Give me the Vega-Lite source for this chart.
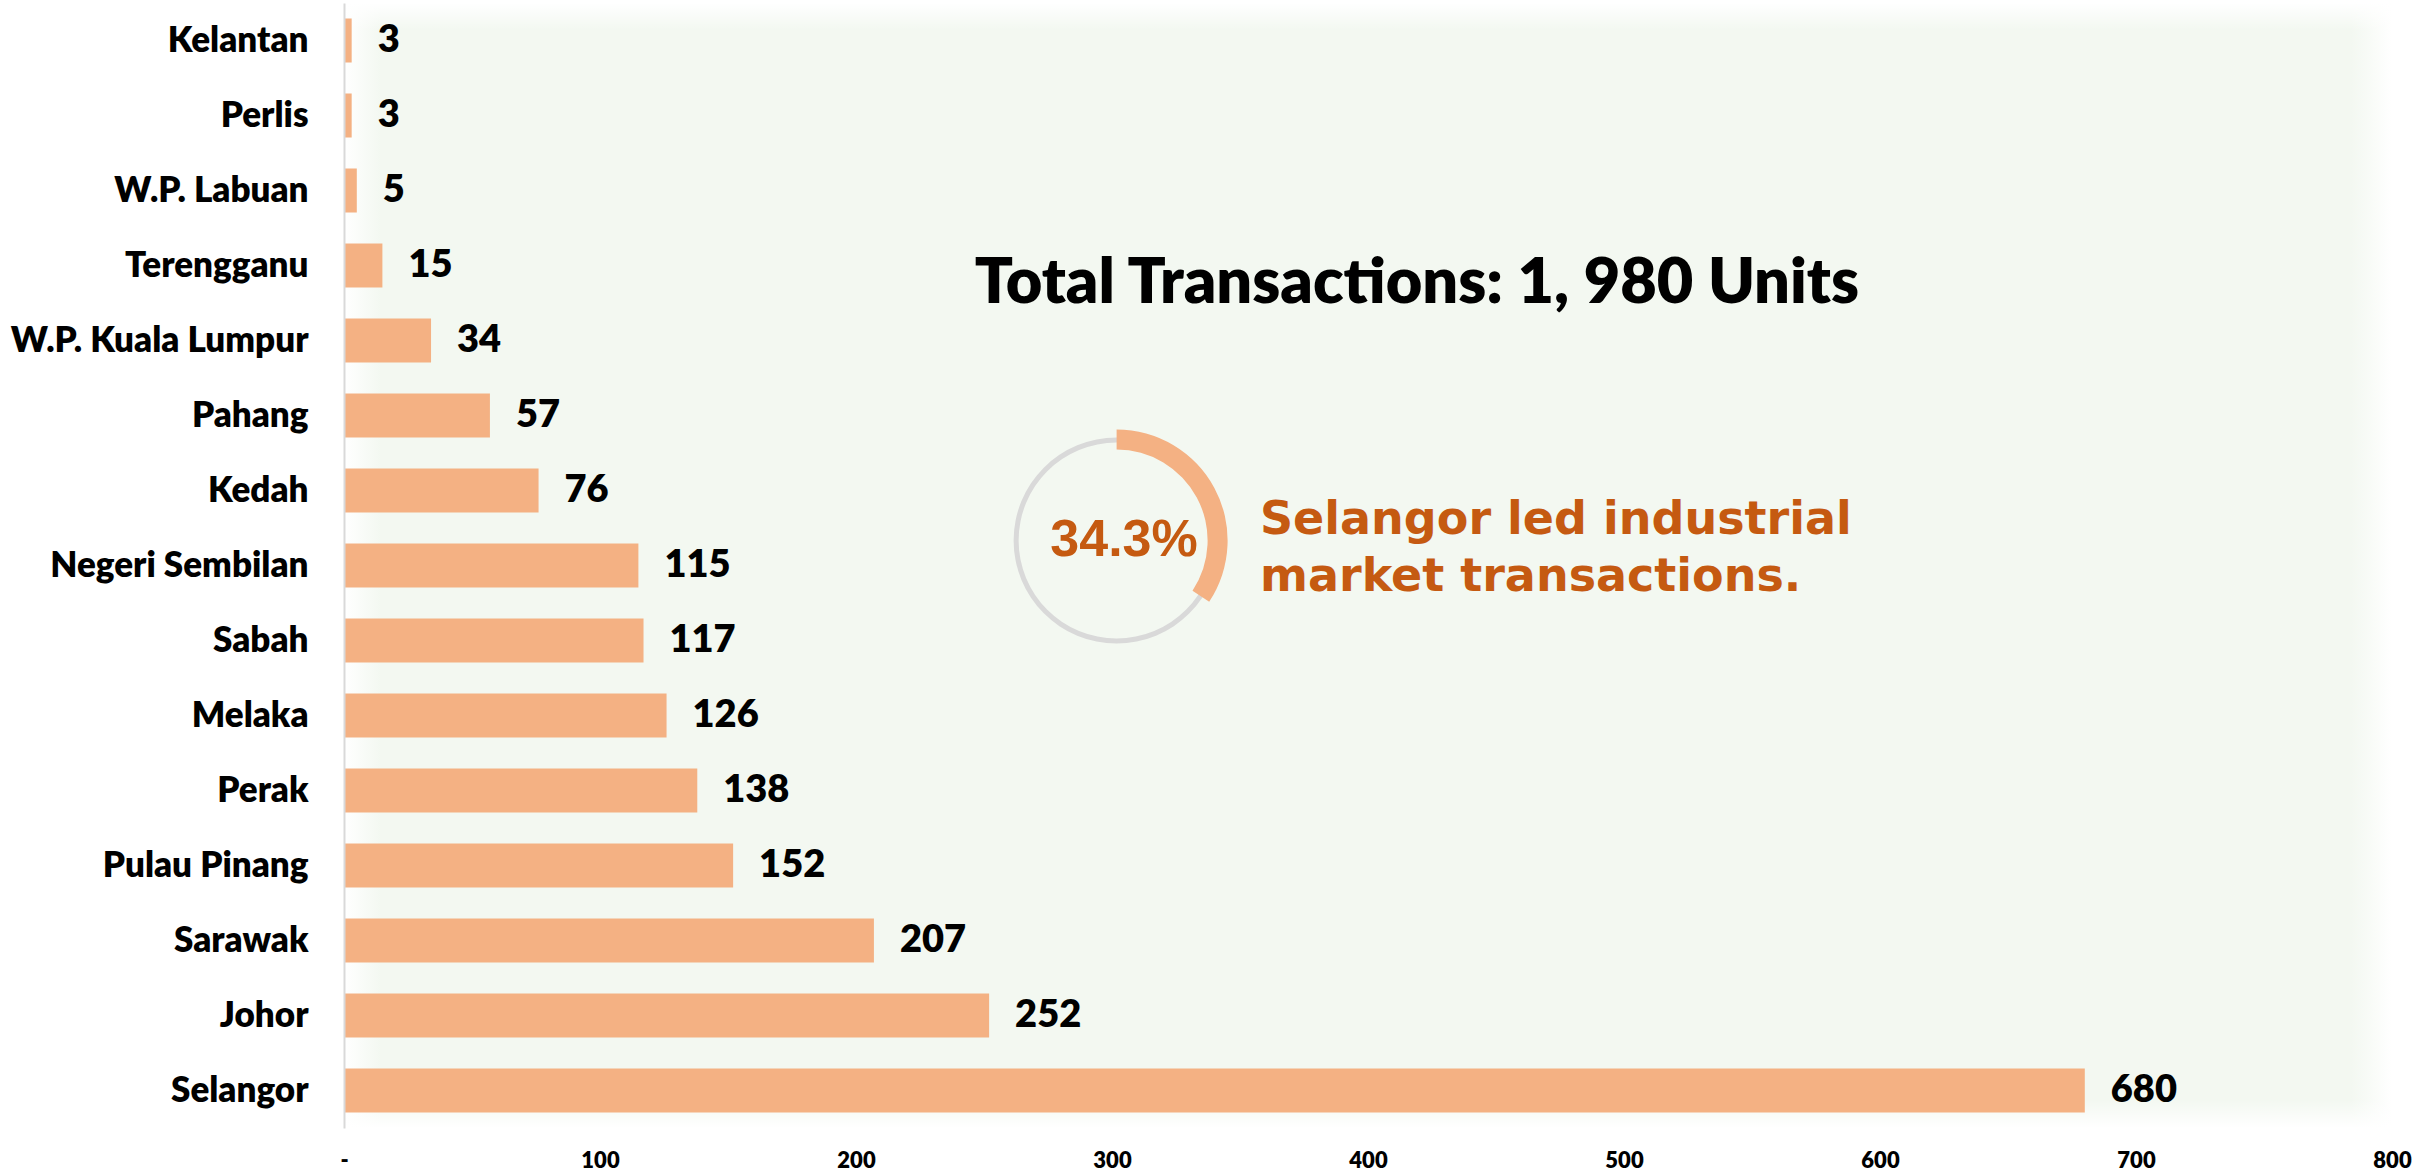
{
  "$schema": "https://vega.github.io/schema/vega-lite/v6.json",
  "width": 2048,
  "height": 1125,
  "autosize": "none",
  "padding": {"left": 344, "top": 3, "right": 40, "bottom": 45},
  "background": "#ffffff",
  "config": {"view": {"stroke": null}},
  "datasets": {
    "states": [
      {"state": "Kelantan", "units": 3},
      {"state": "Perlis", "units": 3},
      {"state": "W.P. Labuan", "units": 5},
      {"state": "Terengganu", "units": 15},
      {"state": "W.P. Kuala Lumpur", "units": 34},
      {"state": "Pahang", "units": 57},
      {"state": "Kedah", "units": 76},
      {"state": "Negeri Sembilan", "units": 115},
      {"state": "Sabah", "units": 117},
      {"state": "Melaka", "units": 126},
      {"state": "Perak", "units": 138},
      {"state": "Pulau Pinang", "units": 152},
      {"state": "Sarawak", "units": 207},
      {"state": "Johor", "units": 252},
      {"state": "Selangor", "units": 680}
    ]
  },
  "layer": [
    {
      "data": {"values": [{}]},
      "mark": {
        "type": "rect",
        "color": {
          "gradient": "linear", "x1": 0, "y1": 0, "x2": 1, "y2": 0,
          "stops": [
            {"offset": 0, "color": "#ffffff"},
            {"offset": 0.018, "color": "#f3f8f1"},
            {"offset": 0.98, "color": "#f3f8f1"},
            {"offset": 1, "color": "#ffffff"}
          ]
        }
      },
      "encoding": {
        "x": {"datum": 0, "type": "quantitative"},
        "x2": {"datum": 800}
      }
    },
    {
      "data": {"values": [{}]},
      "mark": {
        "type": "rect",
        "color": {
          "gradient": "linear", "x1": 0, "y1": 0, "x2": 0, "y2": 1,
          "stops": [
            {"offset": 0, "color": "rgba(255,255,255,1)"},
            {"offset": 0.024, "color": "rgba(255,255,255,0)"},
            {"offset": 0.975, "color": "rgba(255,255,255,0)"},
            {"offset": 1, "color": "rgba(255,255,255,1)"}
          ]
        }
      },
      "encoding": {
        "x": {"datum": 0, "type": "quantitative"},
        "x2": {"datum": 800}
      }
    },
    {
      "data": {"name": "states"},
      "mark": {"type": "bar", "color": "#F4B183"},
      "encoding": {
        "y": {
          "field": "state",
          "type": "nominal",
          "scale": {
            "domain": ["Kelantan", "Perlis", "W.P. Labuan", "Terengganu", "W.P. Kuala Lumpur", "Pahang", "Kedah", "Negeri Sembilan", "Sabah", "Melaka", "Perak", "Pulau Pinang", "Sarawak", "Johor", "Selangor"],
            "paddingInner": 0.413,
            "paddingOuter": 0.2065
          },
          "axis": {
            "title": null,
            "ticks": false,
            "tickSize": 0,
            "labelPadding": 36,
            "labelFont": "Lato",
            "labelFontWeight": 800,
            "labelFontSize": 35,
            "labelColor": "#000000",
            "labelLimit": 400,
            "domainColor": "#d9d9d9",
            "domainWidth": 2,
            "grid": false,
            "zindex": 1
          }
        },
        "x": {
          "field": "units",
          "type": "quantitative",
          "scale": {"domain": [0, 800], "nice": false},
          "axis": {
            "title": null,
            "values": [0, 100, 200, 300, 400, 500, 600, 700, 800],
            "labelExpr": "datum.value === 0 ? '-' : datum.label",
            "domain": false,
            "ticks": false,
            "tickSize": 0,
            "grid": false,
            "labelPadding": 22,
            "labelFont": "Lato",
            "labelFontWeight": 800,
            "labelFontSize": 22,
            "labelColor": "#000000",
            "labelFlush": false
          }
        }
      }
    },
    {
      "data": {"name": "states"},
      "mark": {"type": "text", "align": "left", "baseline": "middle", "dx": 26, "font": "Lato", "fontWeight": 800, "fontSize": 38, "color": "#000000"},
      "encoding": {
        "y": {"field": "state", "type": "nominal"},
        "x": {"field": "units", "type": "quantitative"},
        "text": {"field": "units", "type": "quantitative"}
      }
    },
    {
      "data": {"values": [{"label": "Total Transactions: 1, 980 Units"}]},
      "mark": {"type": "text", "align": "center", "baseline": "alphabetic", "dy": 37, "font": "Lato", "fontWeight": 800, "fontSize": 63, "color": "#000000"},
      "encoding": {
        "x": {"datum": 419.1, "type": "quantitative"},
        "y": {"datum": "Terengganu", "type": "nominal"},
        "text": {"field": "label"}
      }
    },
    {
      "data": {"values": [{}]},
      "mark": {"type": "arc", "theta": 0, "theta2": 6.2832, "radius": 103, "radius2": 98, "color": "#d9d9d9", "yOffset": -25},
      "encoding": {
        "x": {"datum": 301.8, "type": "quantitative"},
        "y": {"datum": "Negeri Sembilan", "type": "nominal"}
      }
    },
    {
      "data": {"values": [{"segment": "Selangor", "share": 34.3}]},
      "mark": {"type": "arc", "radius": 111, "radius2": 91, "color": "#F4B183", "yOffset": -25},
      "encoding": {
        "x": {"datum": 301.8, "type": "quantitative"},
        "y": {"datum": "Negeri Sembilan", "type": "nominal"},
        "theta": {"field": "share", "type": "quantitative", "stack": true, "scale": {"domain": [0, 100]}}
      }
    },
    {
      "data": {"values": [{"label": "34.3%"}]},
      "mark": {"type": "text", "align": "center", "baseline": "alphabetic", "dy": -10, "font": "Liberation Sans", "fontWeight": "bold", "fontSize": 52, "color": "#C55A11"},
      "encoding": {
        "x": {"datum": 304.7, "type": "quantitative"},
        "y": {"datum": "Negeri Sembilan", "type": "nominal"},
        "text": {"field": "label"}
      }
    },
    {
      "data": {"values": [{"label": ["Selangor led industrial", "market transactions."]}]},
      "mark": {"type": "text", "align": "left", "baseline": "alphabetic", "dy": -32, "lineHeight": 57, "font": "DejaVu Sans", "fontWeight": "bold", "fontSize": 46, "color": "#C55A11"},
      "encoding": {
        "x": {"datum": 357.8, "type": "quantitative"},
        "y": {"datum": "Negeri Sembilan", "type": "nominal"},
        "text": {"field": "label"}
      }
    }
  ]
}
